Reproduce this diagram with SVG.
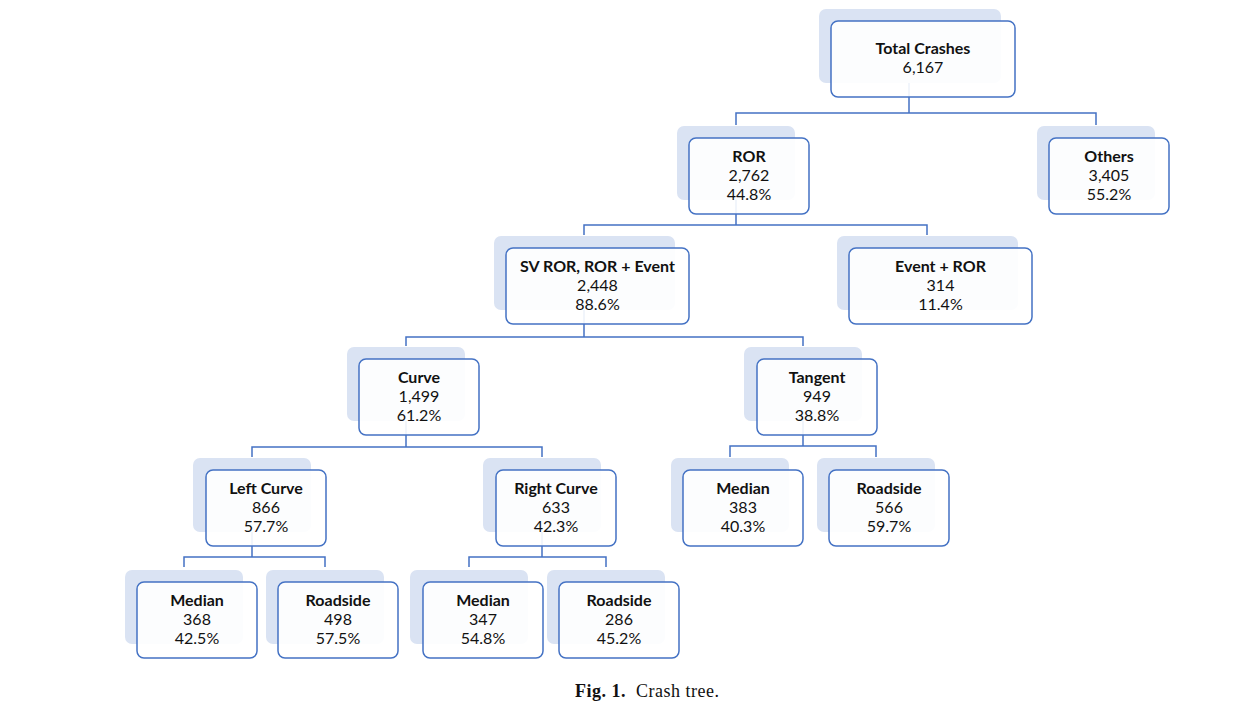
<svg xmlns="http://www.w3.org/2000/svg" width="1256" height="721" viewBox="0 0 1256 721">
<style>
.sh{fill:#dae3f3;stroke:none}
.fr{fill:#ffffff;fill-opacity:0.9;stroke:#4472c4;stroke-width:1.5}
.t{font-family:Lato,"Open Sans","Liberation Sans",sans-serif;font-size:16px;fill:#111111;text-anchor:middle}
.b{font-weight:bold}
.c{fill:none;stroke:#4472c4;stroke-width:1.5}
.cap{font-family:"Liberation Serif",serif;font-size:18px;letter-spacing:0.5px;fill:#111111}
</style>
<rect width="1256" height="721" fill="#ffffff"/>
<g id="connectors">
<path class="c" d="M909,83 V113 M736,125 V113 H1096 V125"/>
<path class="c" d="M736,200 V225 M584,235 V225 H927 V235"/>
<path class="c" d="M584,310 V337 M406,346 V337 H803 V346"/>
<path class="c" d="M406,421 V447 M252,457 V447 H542 V457"/>
<path class="c" d="M803,421 V446 M730,457 V446 H876 V457"/>
<path class="c" d="M252,532 V557 M184,567 V557 H325 V567"/>
<path class="c" d="M542,532 V557 M469,567 V557 H606 V567"/>
</g>
<g id="total">
<rect class="sh" x="819" y="9" width="182" height="74" rx="7"/>
<rect class="fr" x="831" y="21" width="184" height="76" rx="7"/>
<text class="t b" x="923" y="54">Total Crashes</text>
<text class="t" x="923" y="73">6,167</text>
</g>
<g id="ror">
<rect class="sh" x="677" y="126" width="118" height="74" rx="7"/>
<rect class="fr" x="689" y="138" width="120" height="76" rx="7"/>
<text class="t b" x="749" y="162">ROR</text>
<text class="t" x="749" y="181">2,762</text>
<text class="t" x="749" y="200">44.8%</text>
</g>
<g id="others">
<rect class="sh" x="1037" y="126" width="118" height="74" rx="7"/>
<rect class="fr" x="1049" y="138" width="120" height="76" rx="7"/>
<text class="t b" x="1109" y="162">Others</text>
<text class="t" x="1109" y="181">3,405</text>
<text class="t" x="1109" y="200">55.2%</text>
</g>
<g id="svror">
<rect class="sh" x="494" y="236" width="181" height="74" rx="7"/>
<rect class="fr" x="506" y="248" width="183" height="76" rx="7"/>
<text class="t b" x="597.5" y="272">SV ROR, ROR + Event</text>
<text class="t" x="597.5" y="291">2,448</text>
<text class="t" x="597.5" y="310">88.6%</text>
</g>
<g id="eventror">
<rect class="sh" x="837" y="236" width="181" height="74" rx="7"/>
<rect class="fr" x="849" y="248" width="183" height="76" rx="7"/>
<text class="t b" x="940.5" y="272">Event + ROR</text>
<text class="t" x="940.5" y="291">314</text>
<text class="t" x="940.5" y="310">11.4%</text>
</g>
<g id="curve">
<rect class="sh" x="347" y="347" width="118" height="74" rx="7"/>
<rect class="fr" x="359" y="359" width="120" height="76" rx="7"/>
<text class="t b" x="419" y="383">Curve</text>
<text class="t" x="419" y="402">1,499</text>
<text class="t" x="419" y="421">61.2%</text>
</g>
<g id="tangent">
<rect class="sh" x="744" y="347" width="118" height="74" rx="7"/>
<rect class="fr" x="757" y="359" width="120" height="76" rx="7"/>
<text class="t b" x="817" y="383">Tangent</text>
<text class="t" x="817" y="402">949</text>
<text class="t" x="817" y="421">38.8%</text>
</g>
<g id="leftcurve">
<rect class="sh" x="193" y="458" width="118" height="74" rx="7"/>
<rect class="fr" x="206" y="470" width="120" height="76" rx="7"/>
<text class="t b" x="266" y="494">Left Curve</text>
<text class="t" x="266" y="513">866</text>
<text class="t" x="266" y="532">57.7%</text>
</g>
<g id="rightcurve">
<rect class="sh" x="483" y="458" width="118" height="74" rx="7"/>
<rect class="fr" x="496" y="470" width="120" height="76" rx="7"/>
<text class="t b" x="556" y="494">Right Curve</text>
<text class="t" x="556" y="513">633</text>
<text class="t" x="556" y="532">42.3%</text>
</g>
<g id="tangent-median">
<rect class="sh" x="671" y="458" width="118" height="74" rx="7"/>
<rect class="fr" x="683" y="470" width="120" height="76" rx="7"/>
<text class="t b" x="743" y="494">Median</text>
<text class="t" x="743" y="513">383</text>
<text class="t" x="743" y="532">40.3%</text>
</g>
<g id="tangent-roadside">
<rect class="sh" x="817" y="458" width="118" height="74" rx="7"/>
<rect class="fr" x="829" y="470" width="120" height="76" rx="7"/>
<text class="t b" x="889" y="494">Roadside</text>
<text class="t" x="889" y="513">566</text>
<text class="t" x="889" y="532">59.7%</text>
</g>
<g id="left-median">
<rect class="sh" x="125" y="570" width="118" height="74" rx="7"/>
<rect class="fr" x="137" y="582" width="120" height="76" rx="7"/>
<text class="t b" x="197" y="606">Median</text>
<text class="t" x="197" y="625">368</text>
<text class="t" x="197" y="644">42.5%</text>
</g>
<g id="left-roadside">
<rect class="sh" x="266" y="570" width="118" height="74" rx="7"/>
<rect class="fr" x="278" y="582" width="120" height="76" rx="7"/>
<text class="t b" x="338" y="606">Roadside</text>
<text class="t" x="338" y="625">498</text>
<text class="t" x="338" y="644">57.5%</text>
</g>
<g id="right-median">
<rect class="sh" x="410" y="570" width="118" height="74" rx="7"/>
<rect class="fr" x="423" y="582" width="120" height="76" rx="7"/>
<text class="t b" x="483" y="606">Median</text>
<text class="t" x="483" y="625">347</text>
<text class="t" x="483" y="644">54.8%</text>
</g>
<g id="right-roadside">
<rect class="sh" x="547" y="570" width="118" height="74" rx="7"/>
<rect class="fr" x="559" y="582" width="120" height="76" rx="7"/>
<text class="t b" x="619" y="606">Roadside</text>
<text class="t" x="619" y="625">286</text>
<text class="t" x="619" y="644">45.2%</text>
</g>
<text class="cap" x="575" y="697"><tspan font-weight="bold">Fig. 1.</tspan><tspan x="636">Crash tree.</tspan></text>
</svg>
